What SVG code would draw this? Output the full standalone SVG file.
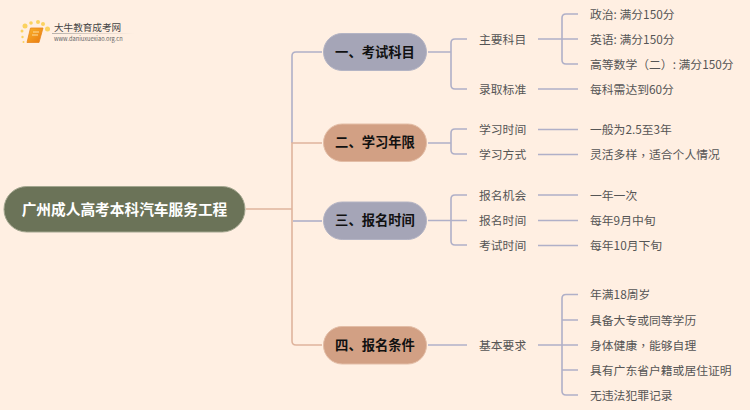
<svg xmlns="http://www.w3.org/2000/svg" width="750" height="410" viewBox="0 0 750 410">
<defs>
<linearGradient id="fade" x1="0" x2="1" y1="0" y2="0"><stop offset="0" stop-color="#b0aaa4" stop-opacity=".9"/><stop offset="1" stop-color="#b0aaa4" stop-opacity="0"/></linearGradient>
<linearGradient id="book" x1="0" x2="1" y1="0" y2="1"><stop offset="0" stop-color="#fbb42c"/><stop offset="1" stop-color="#e8780e"/></linearGradient>
</defs>
<style>
text{font-family:"Noto Sans CJK SC","Liberation Sans",sans-serif}
.c{fill:none;stroke-width:1.6}
.g{stroke:#b0b0c8}
.o{stroke:#dfb49d}
.n{fill:#a5a5b7;stroke:#b4b4c4;stroke-width:1}
.r{fill:#d2a084;stroke:#e3bda6;stroke-width:1}
.h{font-size:13.300px;font-weight:700;fill:#111;text-anchor:middle;dominant-baseline:central}
.t{font-size:11.800px;fill:#555;dominant-baseline:central}
.w{font-family:"Noto Sans CJK TC",sans-serif}
.d{fill:#fbd25f}
</style>
<rect width="750" height="410" fill="#ffefe2"/>
<g id="logo">
<circle class="d" cx="25" cy="26" r="2.500"/><circle class="d" cx="31" cy="23" r="1.800"/><circle class="d" cx="38" cy="22" r="2"/><circle class="d" cx="43" cy="24" r="2"/><circle class="d" cx="47.500" cy="29" r="2.500"/><circle class="d" cx="22" cy="31" r="1.500"/><circle class="d" cx="22.500" cy="37" r="1.200"/><circle class="d" cx="23.500" cy="42" r="1"/>
<path d="M30.500 28H43L39 42.500H27Z" fill="url(#book)" stroke="#e8861e" stroke-width=".8"/>
<path d="M33 32H39M32 35H38" stroke="#fff0c0" stroke-width=".8" fill="none"/>
<text x="54" y="26.500" font-size="9.600" fill="#444" dominant-baseline="central">大牛教育成考网</text>
<rect x="52" y="33" width="82" height="1" fill="url(#fade)"/>
<text x="54" y="38.500" font-size="5.700" fill="#666" dominant-baseline="central">www.daniuxuexiao.org.cn</text>
</g>
<g id="connectors">
<path class="c o" d="M246 209H292"/>
<path class="c g" d="M292 143V56Q292 52 296 52H322"/>
<path class="c o" d="M292 209V143H322"/>
<path class="c o" d="M292 209V341Q292 345 296 345H322"/>
<path class="c g" d="M293 221H322"/>
<path class="c g" d="M428 52H451M467 39H455Q451 39 451 43V85Q451 89 455 89H467"/>
<path class="c g" d="M428 143H451M467 129H455Q451 129 451 133V150Q451 154 455 154H467"/>
<path class="c g" d="M428 220.500H467M467 195H455Q451 195 451 199V241Q451 245 455 245H467"/>
<path class="c g" d="M428 345H467"/>
<path class="c g" d="M538 39H578M578 14H566Q562 14 562 18V60Q562 64 566 64H578"/>
<path class="c g" d="M538 89H578M538 129.500H578M538 154.500H578M538 195H578M538 220.500H578M538 245.500H578"/>
<path class="c g" d="M538 345H578M578 294.500H566Q562 294.500 562 298.500V391Q562 395 566 395H578M562 320H578M562 370H578"/>
</g>
<g id="root"><rect x="4" y="186.500" width="241" height="45.500" rx="22.700" fill="#6b7358" stroke="#a3a68f"/><text x="124.500" y="208.300" font-size="14.700" font-weight="700" fill="#fff" text-anchor="middle" dominant-baseline="central">广州成人高考本科汽车服务工程</text></g>
<g id="b1"><rect class="n" x="323.500" y="33.500" width="103" height="37" rx="18.500"/><text class="h" x="375" y="51.300">一、考试科目</text></g>
<g id="b2"><rect class="r" x="323.500" y="124" width="103" height="37.500" rx="18.700"/><text class="h" x="375" y="141.800">二、学习年限</text></g>
<g id="b3"><rect class="n" x="323.500" y="202" width="103" height="37.500" rx="18.700"/><text class="h" x="375" y="219.800">三、报名时间</text></g>
<g id="b4"><rect class="r" x="323.500" y="326.500" width="103" height="37.500" rx="18.700"/><text class="h" x="375" y="344.300">四、报名条件</text></g>
<g id="n1"><text class="t" x="479" y="38.300">主要科目</text></g>
<g id="n2"><text class="t" x="479" y="88.300">录取标准</text></g>
<g id="n3"><text class="t" x="479" y="128.800">学习时间</text></g>
<g id="n4"><text class="t" x="479" y="153.800">学习方式</text></g>
<g id="n5"><text class="t" x="479" y="194.300">报名机会</text></g>
<g id="n6"><text class="t" x="479" y="219.800">报名时间</text></g>
<g id="n7"><text class="t" x="479" y="244.800">考试时间</text></g>
<g id="n8"><text class="t" x="479" y="344.300">基本要求</text></g>
<g id="l1"><text class="t" x="590" y="13.300">政治: 满分150分</text></g>
<g id="l2"><text class="t" x="590" y="38.300">英语: 满分150分</text></g>
<g id="l3"><text class="t" x="590" y="63.300">高等数学<tspan class="w">（</tspan>二<tspan class="w">）</tspan>: 满分150分</text></g>
<g id="l4"><text class="t" x="590" y="88.300">每科需达到60分</text></g>
<g id="l5"><text class="t" x="590" y="128.800">一般为2.5至3年</text></g>
<g id="l6"><text class="t" x="590" y="153.800">灵活多样<tspan class="w">，</tspan>适合个人情况</text></g>
<g id="l7"><text class="t" x="590" y="194.300">一年一次</text></g>
<g id="l8"><text class="t" x="590" y="219.800">每年9月中旬</text></g>
<g id="l9"><text class="t" x="590" y="244.800">每年10月下旬</text></g>
<g id="l10"><text class="t" x="590" y="293.800">年满18周岁</text></g>
<g id="l11"><text class="t" x="590" y="319.300">具备大专或同等学历</text></g>
<g id="l12"><text class="t" x="590" y="344.300">身体健康<tspan class="w">，</tspan>能够自理</text></g>
<g id="l13"><text class="t" x="590" y="369.300">具有广东省户籍或居住证明</text></g>
<g id="l14"><text class="t" x="590" y="394.300">无违法犯罪记录</text></g>
</svg>
